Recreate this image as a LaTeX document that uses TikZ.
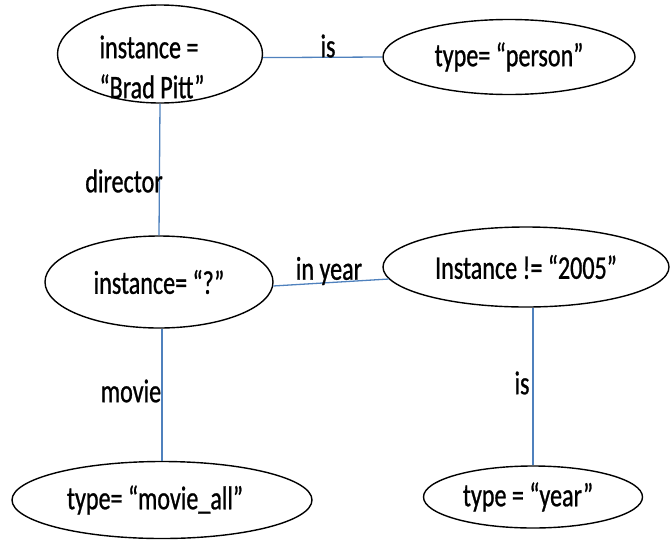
\documentclass[tikz,border=0pt]{standalone}
\usepackage{fontspec}
\setmainfont{Carlito}[FakeStretch=0.73,FakeBold=0.8]
\usetikzlibrary{shapes.geometric}
\definecolor{edgeblue}{RGB}{79,129,189}
\tikzset{
  ell/.style={draw=black, ellipse, line width=1.4pt, inner sep=0pt, font=\fontsize{33}{40}\selectfont},
  txt/.style={inner sep=0pt, font=\fontsize{33}{40}\selectfont, align=center},
  conn/.style={draw=edgeblue, line width=1.3pt},
}
\begin{document}
\begin{tikzpicture}[x=1pt,y=-1pt]
\useasboundingbox (0,0) rectangle (671,541);
\node[ell, minimum width=205pt, minimum height=98pt,
      label={[txt, align=left, xshift=-8pt, yshift=-13pt]center:instance =\\“Brad Pitt”}] (bp) at (160,54) {};
\node[ell, minimum width=252pt, minimum height=75pt] (person) at (509,57) {type= “person”};
\node[ell, minimum width=228pt, minimum height=92pt] (q) at (159,282) {instance= “?”};
\node[ell, minimum width=286pt, minimum height=80pt] (i2005) at (526,267) {Instance != “2005”};
\node[ell, minimum width=300pt, minimum height=77pt,
      label={[txt, xshift=-7pt]center:type= “movie\_all”}] (movie) at (162,500) {};
\node[ell, minimum width=219pt, minimum height=62pt,
      label={[txt, xshift=-5pt]center:type = “year”}] (year) at (533,497) {};

\draw[conn] (bp.-2) -- (person.west);
\draw[conn] (bp.south) -- (q.north);
\draw[conn] (q.-2) -- (i2005.185);
\draw[conn] (movie.north |- q.south) -- (movie.north);
\draw[conn] (year.north) -- (year.north |- i2005.south);

\node[txt] (l1) at (328,46) {is};
\node[txt] (l2) at (124,181) {director};
\node[txt] (l3) at (329,271) {in year};
\node[txt] (l4) at (131,391) {movie};
\node[txt] (l5) at (522,383) {is};
\end{tikzpicture}
\end{document}
